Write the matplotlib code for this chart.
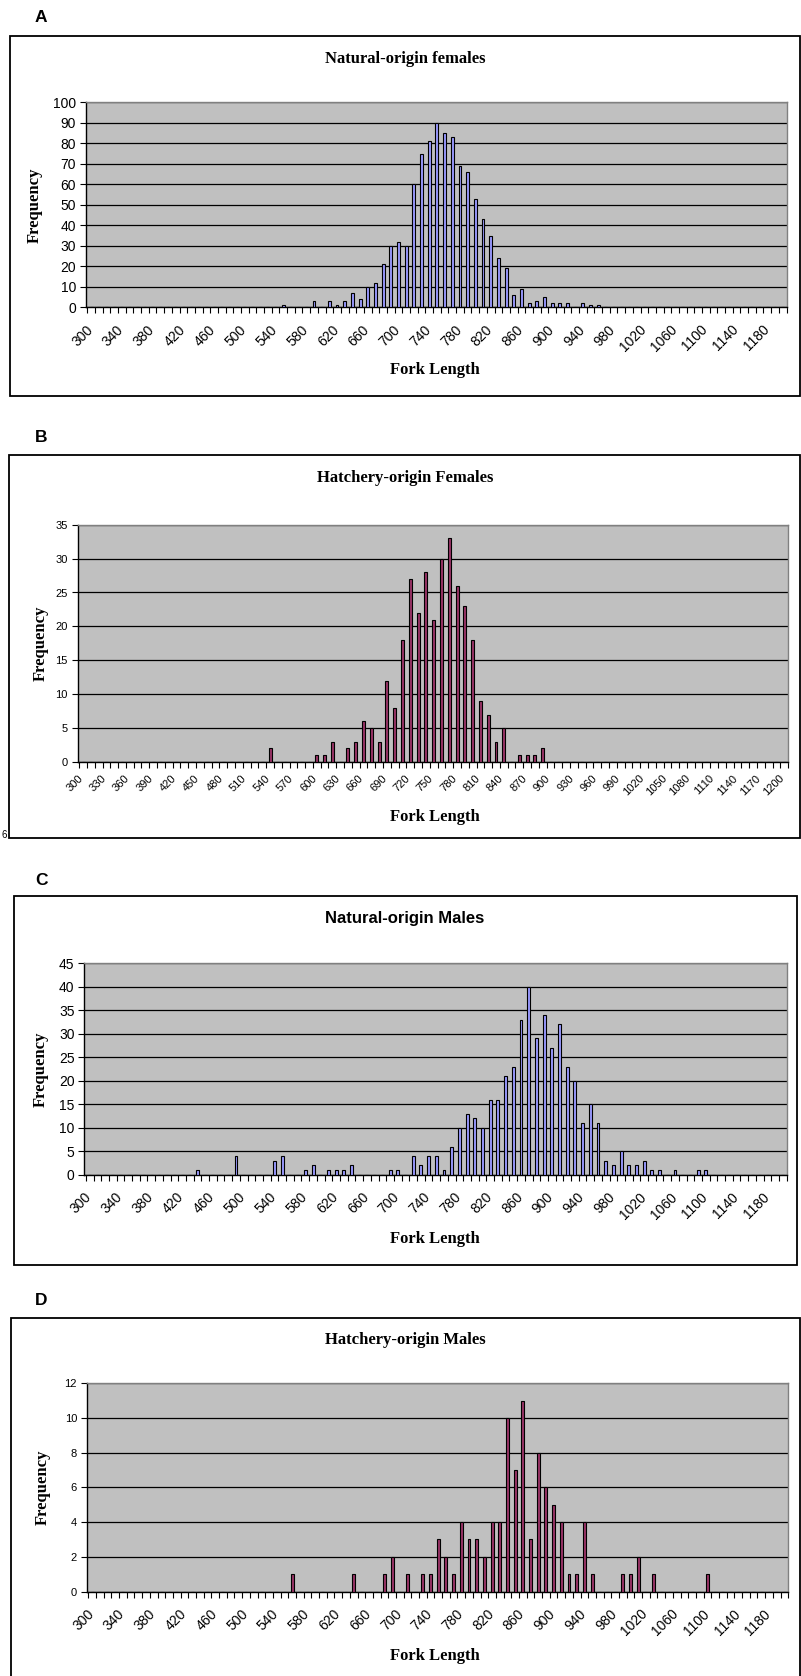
import numpy as np
import matplotlib
matplotlib.use('Agg')
import matplotlib.pyplot as plt
from matplotlib.patches import Rectangle

# ── Data: fork length bins (mm) and non-zero bin counts ─────────────

bins = np.arange(300, 1201, 10)

nat_fem_len  = [550, 590, 610, 620, 630, 640, 650, 660, 670, 680, 690, 700,
                710, 720, 730, 740, 750, 760, 770, 780, 790, 800, 810, 820,
                830, 840, 850, 860, 870, 880, 890, 900, 910, 920, 940, 950, 960]
nat_fem_freq = [1, 3, 3, 1, 3, 7, 4, 10, 12, 21, 30, 32,
                30, 60, 75, 81, 90, 85, 83, 69, 66, 53, 43, 35,
                24, 19, 6, 9, 2, 3, 5, 2, 2, 2, 2, 1, 1]

hat_fem_len  = [540, 600, 610, 620, 640, 650, 660, 670, 680, 690, 700, 710,
                720, 730, 740, 750, 760, 770, 780, 790, 800, 810, 820, 830,
                840, 860, 870, 880, 890]
hat_fem_freq = [2, 1, 1, 3, 2, 3, 6, 5, 3, 12, 8, 18,
                27, 22, 28, 21, 30, 33, 26, 23, 18, 9, 7, 3,
                5, 1, 1, 1, 2]

nat_male_len  = [440, 490, 540, 550, 580, 590, 610, 620, 630, 640, 690, 700,
                 720, 730, 740, 750, 760, 770, 780, 790, 800, 810, 820, 830,
                 840, 850, 860, 870, 880, 890, 900, 910, 920, 930, 940, 950,
                 960, 970, 980, 990, 1000, 1010, 1020, 1030, 1040, 1060,
                 1090, 1100]
nat_male_freq = [1, 4, 3, 4, 1, 2, 1, 1, 1, 2, 1, 1,
                 4, 2, 4, 4, 1, 6, 10, 13, 12, 10, 16, 16,
                 21, 23, 33, 40, 29, 34, 27, 32, 23, 20, 11, 15,
                 11, 3, 2, 5, 2, 2, 3, 1, 1, 1,
                 1, 1]

hat_male_len  = [560, 640, 680, 690, 710, 730, 740, 750, 760, 770, 780, 790,
                 800, 810, 820, 830, 840, 850, 860, 870, 880, 890, 900, 910,
                 920, 930, 940, 950, 990, 1000, 1010, 1030, 1100]
hat_male_freq = [1, 1, 1, 2, 1, 1, 1, 3, 2, 1, 4, 3,
                 3, 2, 4, 4, 10, 7, 11, 3, 8, 6, 5, 4,
                 1, 1, 4, 1, 1, 1, 2, 1, 1]

BLUE = '#9999FF'
PLUM = '#993366'

W, H = 801, 1676
fig = plt.figure(figsize=(W / 100, H / 100), dpi=100)


def frect(l, t, r, b):
    return [l / W, 1 - b / H, (r - l) / W, (b - t) / H]


def counts(lengths, freqs):
    c = np.zeros(len(bins))
    for L, f in zip(lengths, freqs):
        c[np.where(bins == L)[0][0]] = f
    return c


panels = [
    dict(letter='A', letter_y=17, box=(10, 36, 799.5, 396),
         ax=(85.8, 102.3, 786.5, 307.3), title='Natural-origin females',
         title_y=59, title_font='Liberation Serif',
         xlab_y=370, ylab_x=35, ymax=100, ystep=10,
         data=(nat_fem_len, nat_fem_freq), color=BLUE, lstep=4,
         xfs=10, yfs=10, pad=11),
    dict(letter='B', letter_y=437, box=(9.2, 455, 799.5, 838),
         ax=(77.6, 524.7, 788.2, 762), title='Hatchery-origin Females',
         title_y=478, title_font='Liberation Serif',
         xlab_y=817, ylab_x=41, ymax=35, ystep=5,
         data=(hat_fem_len, hat_fem_freq), color=PLUM, lstep=3,
         xfs=8, yfs=8, pad=8),
    dict(letter='C', letter_y=880, box=(14.3, 896, 797, 1265),
         ax=(84.3, 963.3, 786.7, 1174.7), title='Natural-origin Males',
         title_y=918, title_font='Liberation Sans',
         xlab_y=1239, ylab_x=41, ymax=45, ystep=5,
         data=(nat_male_len, nat_male_freq), color=BLUE, lstep=4,
         xfs=10, yfs=10, pad=11),
    dict(letter='D', letter_y=1300, box=(11.2, 1318.3, 799.5, 1690),
         ax=(86.8, 1383.3, 788.2, 1591.5), title='Hatchery-origin Males',
         title_y=1340, title_font='Liberation Serif',
         xlab_y=1656, ylab_x=43, ymax=12, ystep=2,
         data=(hat_male_len, hat_male_freq), color=PLUM, lstep=4,
         xfs=10, yfs=8, pad=11),
]

x = np.arange(len(bins))

for p in panels:
    # chart area border
    bl, bt, br, bb = p['box']
    fig.patches.append(Rectangle((bl / W, 1 - bb / H), (br - bl) / W, (bb - bt) / H,
                                 transform=fig.transFigure, fill=False,
                                 edgecolor='black', linewidth=1.3))
    fig.text(41 / W, 1 - p['letter_y'] / H, p['letter'], ha='center', va='center',
             fontsize=12.5, fontweight='bold', family='Liberation Sans')

    l, t, r, b = p['ax']
    ax = fig.add_axes(frect(l, t, r, b))
    ax.set_facecolor('#C0C0C0')
    y = counts(*p['data'])
    # thin grey shadow to the right of each bar
    ax.bar(x + 0.1, y, width=0.38, color='#7F7F7F', linewidth=0, zorder=2.5)
    ax.bar(x, y, width=0.38, color=p['color'], edgecolor='black',
           linewidth=0.8, zorder=3)
    ax.set_xlim(-0.5, len(bins) - 0.5)
    ax.set_ylim(0, p['ymax'])
    ax.set_yticks(np.arange(0, p['ymax'] + 1, p['ystep']))
    ax.yaxis.grid(True, color='black', linewidth=0.9)
    ax.set_axisbelow(True)

    # invisible major ticks carry the labels, nudged left of the bin centre
    lab_idx = x[::p['lstep']] - 0.7
    ax.set_xticks(lab_idx)
    ax.set_xticklabels([str(v) for v in bins[::p['lstep']]], rotation=45,
                       ha='right', va='top', rotation_mode='anchor',
                       fontsize=p['xfs'], family='Liberation Sans')
    ax.set_xticks(np.arange(-0.5, len(bins)), minor=True)
    ax.tick_params(axis='x', which='major', length=0, pad=p['pad'])
    ax.tick_params(axis='x', which='minor', length=4, width=0.8, direction='out')
    ax.tick_params(axis='y', length=4, width=0.8, direction='out', pad=3)
    for lbl in ax.get_yticklabels():
        lbl.set_fontsize(p['yfs'])
        lbl.set_family('Liberation Sans')

    ax.spines['left'].set_color('black')
    ax.spines['bottom'].set_color('black')
    ax.spines['top'].set_color('#808080')
    ax.spines['right'].set_color('#808080')
    for s in ax.spines.values():
        s.set_linewidth(1.0)

    fig.text(405 / W, 1 - p['title_y'] / H, p['title'], ha='center', va='center',
             fontsize=12, fontweight='bold', family=p['title_font'])
    fig.text(435 / W, 1 - p['xlab_y'] / H, 'Fork Length', ha='center', va='center',
             fontsize=12, fontweight='bold', family='Liberation Serif')
    fig.text(p['ylab_x'] / W, 1 - ((t + b) / 2) / H, 'Frequency', ha='center',
             va='center', rotation=90, fontsize=12, fontweight='bold',
             family='Liberation Serif')

# stray page-number fragment at lower left of panel B
fig.text(4 / W, 1 - 835 / H, '6', ha='center', va='center', fontsize=7,
         family='Liberation Sans')

fig.savefig('out.png', dpi=100)
